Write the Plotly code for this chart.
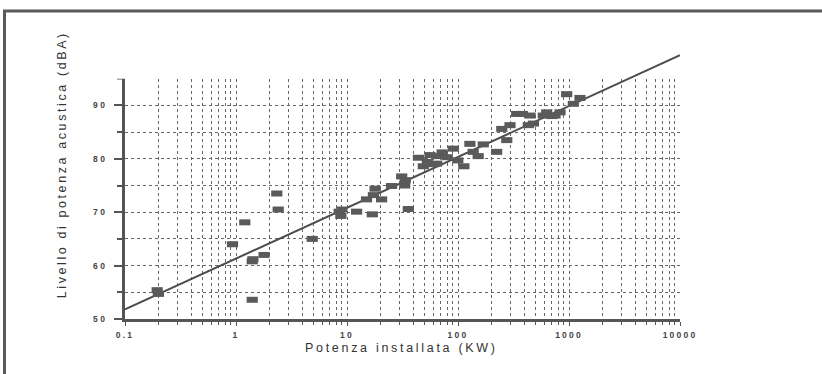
import plotly.graph_objects as go

# Data
potenza_kw = [0.195, 0.2, 0.93, 1.2, 1.4, 1.42, 1.4, 1.79, 2.33, 2.4, 4.86,
              8.5, 8.8, 9.0, 12.2, 15.0, 16.9, 17.3, 17.9, 20.5, 25.2, 31.1,
              33.1, 33.5, 35.7, 44, 48.7, 53, 56, 60, 64.3, 68, 72, 80, 90.8,
              99.6, 113, 128, 137, 152, 169, 223, 248, 275, 294, 338, 380,
              430, 446, 478, 587, 630, 700, 748, 830, 953, 1095, 1256]
livello_dba = [55.4, 54.7, 64.0, 68.1, 60.8, 61.2, 53.6, 62.0, 73.5, 70.5, 65.0,
               70.1, 69.3, 70.5, 70.1, 72.4, 69.6, 73.2, 74.4, 72.4, 74.9, 76.7,
               75.0, 76.0, 70.6, 80.2, 78.6, 79.4, 80.7, 79.0, 79.1, 80.5, 81.2,
               80.3, 81.9, 79.7, 78.6, 82.8, 81.3, 80.5, 82.7, 81.3, 85.6, 83.5,
               86.3, 88.4, 88.4, 86.3, 88.1, 86.6, 88.1, 88.7, 88.0, 88.1, 88.7,
               92.1, 90.3, 91.4]
fit_x = [0.1, 10000]
fit_y = [51.8, 99.4]

x_tickvals = [0.1, 1, 10, 100, 1000, 10000]
x_ticktext = ["0.1", "1", "10", "100", "1000", "10000"]
y_tickvals = [50, 60, 70, 80, 90]
y_ticktext = ["50", "60", "70", "80", "90"]
y_minor = [55, 65, 75, 85]
x_minor = [k * 10 ** n for n in range(-1, 4) for k in range(2, 10)]
x_title = "Potenza installata (KW)"
y_title = "Livello di potenza acustica (dBA)"


def spaced(s, px):
    return '<span style="letter-spacing:%spx">%s</span>' % (px, s)


axis_col = "#555555"
grid_col = "#666666"
tick_font = dict(family="Liberation Sans, Arial", size=8.5, color="#444444", weight="bold")
title_font = dict(family="Liberation Sans, Arial", size=12.5, color="#333333")

fig = go.Figure()
# empty trace so the gridded main subplot is created
fig.add_trace(go.Scatter(x=[], y=[], xaxis="x", yaxis="y", showlegend=False))
fig.add_trace(go.Scatter(x=fit_x, y=fit_y, mode="lines", xaxis="x2", yaxis="y2",
                         line=dict(color="#4d4d4d", width=2), hoverinfo="skip",
                         showlegend=False))
fig.add_trace(go.Scatter(x=potenza_kw, y=livello_dba, mode="markers", xaxis="x2", yaxis="y2",
                         marker=dict(symbol="line-ew", size=8, color="#5a5a5a",
                                     line=dict(color="#5a5a5a", width=6)),
                         showlegend=False))

fig.update_layout(
    width=822, height=374,
    margin=dict(l=125, r=142, t=51.5, b=55),
    paper_bgcolor="white", plot_bgcolor="rgba(0,0,0,0)",
    xaxis=dict(type="log", range=[-1, 4], anchor="y", domain=[0, 1],
               tickmode="array", tickvals=x_tickvals,
               ticktext=[spaced(t, 2.2) for t in x_ticktext],
               ticks="outside", ticklen=4, tickwidth=1, tickcolor=axis_col,
               showline=True, linecolor=axis_col, linewidth=2.5,
               showgrid=True, gridcolor=grid_col, gridwidth=1, griddash="dot",
               tickfont=tick_font, zeroline=False, ticklabelstandoff=2,
               minor=dict(tickmode="array", tickvals=x_minor, ticks="outside",
                          ticklen=3, tickcolor=axis_col, showgrid=True,
                          gridcolor=grid_col, gridwidth=1, griddash="dot")),
    yaxis=dict(range=[50, 95], anchor="x", domain=[0, 0.9],
               tickmode="array", tickvals=y_tickvals,
               ticktext=[spaced(t, 2.5) for t in y_ticktext],
               ticks="outside", ticklen=8, tickwidth=1.5, tickcolor=axis_col,
               showline=True, linecolor=axis_col, linewidth=2.5,
               showgrid=True, gridcolor=grid_col, gridwidth=1, griddash="dot",
               tickfont=tick_font, zeroline=False, ticklabelstandoff=5,
               minor=dict(tickmode="array", tickvals=y_minor, ticks="outside", ticklen=5,
                          tickcolor=axis_col, showgrid=True,
                          gridcolor=grid_col, gridwidth=1, griddash="dot")),
    xaxis2=dict(type="log", range=[-1, 4], anchor="y2", domain=[0, 1], visible=False),
    yaxis2=dict(range=[50, 100], anchor="x2", domain=[0, 1], visible=False),
    annotations=[
        dict(text=spaced(x_title, 2.7), xref="paper", yref="paper",
             x=(401 - 125) / 555, y=(319 - 348) / 267.5, xanchor="center", yanchor="middle",
             showarrow=False, font=title_font),
        dict(text=spaced(y_title, 2.6), xref="paper", yref="paper",
             x=(62 - 125) / 555, y=(319 - 165) / 267.5, xanchor="center", yanchor="middle",
             showarrow=False, textangle=-90, font=title_font),
    ],
    shapes=[
        # short tick at the top of the y axis (95 dB)
        dict(type="line", xref="paper", yref="y", x0=-8 / 555, x1=0, y0=95, y1=95,
             line=dict(color=axis_col, width=1.5)),
        # scanned page frame
        dict(type="line", xref="paper", yref="paper",
             x0=(4.5 - 125) / 555, x1=(4.5 - 125) / 555,
             y0=(319 - 376) / 267.5, y1=(319 - 9.5) / 267.5,
             line=dict(color="#5a5a5a", width=3)),
        dict(type="line", xref="paper", yref="paper",
             x0=(3 - 125) / 555, x1=(824 - 125) / 555,
             y0=(319 - 10.5) / 267.5, y1=(319 - 10.5) / 267.5,
             line=dict(color="#5a5a5a", width=3)),
    ],
)

fig.write_html("out.html", config={"displayModeBar": False},
               post_script="document.body.style.margin='0';")
